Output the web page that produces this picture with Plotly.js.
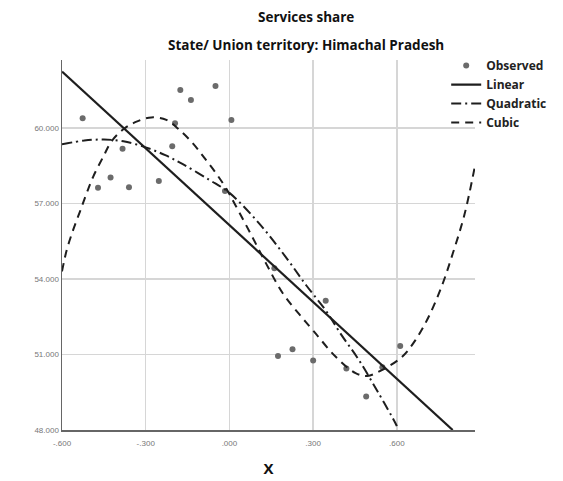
<!DOCTYPE html>
<html>
<head>
<meta charset="utf-8">
<script src="https://cdn.plot.ly/plotly-3.0.1.min.js"></script>
<style>html,body{margin:0;padding:0;background:#fff}#chart{width:563px;height:481px}</style>
</head>
<body>
<div id="chart"></div>
<script>
// Observed points
const obsX = [-0.526, -0.176, -0.138, -0.050, 0.007, -0.195, -0.383, -0.205, -0.426, -0.471, -0.360, -0.253, -0.016, 0.161, 0.174, 0.226, 0.300, 0.345, 0.419, 0.490, 0.548, 0.612];
const obsY = [60.39, 61.51, 61.11, 61.67, 60.32, 60.19, 59.17, 59.27, 58.03, 57.62, 57.64, 57.89, 57.50, 54.43, 50.94, 51.21, 50.76, 53.14, 50.44, 49.33, 50.49, 51.34];

// Linear fit (read endpoints)
const linX = [-0.600, 0.800];
const linY = [62.24, 48.00];

// Quadratic fit
const quadX = [-0.600, -0.520, -0.450, -0.380, -0.300, -0.230, -0.167, -0.071, 0.000, 0.107, 0.200, 0.275, 0.345, 0.400, 0.464, 0.530, 0.595, 0.600];
const quadY = [59.35, 59.50, 59.54, 59.47, 59.23, 58.92, 58.56, 57.93, 57.42, 56.20, 54.90, 53.75, 52.75, 51.80, 50.78, 49.55, 48.27, 48.15];

// Cubic fit
const cubX = [-0.600, -0.583, -0.560, -0.536, -0.512, -0.488, -0.452, -0.423, -0.380, -0.333, -0.280, -0.226, -0.179, -0.131, -0.089, -0.048, -0.012, 0.023, 0.081, 0.132, 0.190, 0.250, 0.304, 0.381, 0.452, 0.494, 0.548, 0.619, 0.667, 0.714, 0.762, 0.800, 0.842, 0.880];
const cubY = [54.30, 55.15, 55.95, 56.67, 57.40, 58.07, 58.86, 59.46, 59.95, 60.25, 60.42, 60.32, 59.92, 59.39, 58.80, 58.20, 57.60, 56.90, 55.69, 54.60, 53.45, 52.60, 51.90, 50.91, 50.26, 50.15, 50.39, 50.91, 51.58, 52.50, 53.75, 55.00, 56.55, 58.50];

const xTickVals = [-0.6, -0.3, 0, 0.3, 0.6];
const xTickText = ['-.600', '-.300', '.000', '.300', '.600'];
const yTickVals = [48, 51, 54, 57, 60];
const yTickText = ['48.000', '51.000', '54.000', '57.000', '60.000'];

const seriesNames = ['Observed', 'Linear', 'Quadratic', 'Cubic'];

const traces = [
  {x: obsX, y: obsY, mode: 'markers', type: 'scatter', name: seriesNames[0],
   marker: {color: '#6b6b6b', size: 6}},
  {x: linX, y: linY, mode: 'lines', type: 'scatter', name: seriesNames[1],
   line: {color: '#1e1e1e', width: 2.2}},
  {x: quadX, y: quadY, mode: 'lines', type: 'scatter', name: seriesNames[2],
   line: {color: '#1e1e1e', width: 2, dash: '10px,4px,2px,4px', shape: 'spline'}},
  {x: cubX, y: cubY, mode: 'lines', type: 'scatter', name: seriesNames[3],
   line: {color: '#1e1e1e', width: 2, dash: '8px,6px', shape: 'spline'}}
];

const layout = {
  width: 563, height: 481,
  margin: {l: 62, r: 87, t: 60, b: 51},
  paper_bgcolor: '#fff', plot_bgcolor: '#fff',
  font: {family: 'Open Sans, sans-serif', color: '#111'},
  showlegend: true,
  legend: {x: 0.928, xanchor: 'left', y: 1.024, yanchor: 'top',
    bgcolor: 'rgba(0,0,0,0)', font: {size: 12, color: '#222', weight: 'bold'},
    tracegroupgap: 0, itemwidth: 30},
  xaxis: {range: [-0.6, 0.88], tickvals: xTickVals, ticktext: xTickText,
    showgrid: true, gridcolor: '#d6d6d6', gridwidth: 1.5, zeroline: false,
    showline: true, linecolor: '#666', linewidth: 1.5,
    ticks: 'outside', ticklen: 5, tickcolor: 'rgba(0,0,0,0)',
    tickfont: {size: 8, color: '#777', family: 'Liberation Sans Narrow, Liberation Sans, sans-serif'},
    title: {text: '<b>X</b>', font: {size: 15, color: '#111'}, standoff: 16}},
  yaxis: {range: [48, 62.7], tickvals: yTickVals, ticktext: yTickText,
    showgrid: true, gridcolor: '#d6d6d6', gridwidth: 1.5, zeroline: false,
    showline: true, linecolor: '#666', linewidth: 1.5, ticks: '',
    tickfont: {size: 8, color: '#777', family: 'Liberation Sans Narrow, Liberation Sans, sans-serif'}},
  annotations: [
    {text: '<b>Services share</b>', xref: 'paper', yref: 'paper', x: 0.592, y: 1.0,
     xanchor: 'center', yanchor: 'middle', yshift: 43, showarrow: false,
     font: {size: 13.5, color: '#111'}},
    {text: '<b>State/ Union territory: Himachal Pradesh</b>', xref: 'paper', yref: 'paper', x: 0.592, y: 1.0,
     xanchor: 'center', yanchor: 'middle', yshift: 15, showarrow: false,
     font: {size: 13.5, color: '#111'}}
  ]
};

Plotly.newPlot('chart', traces, layout, {displayModeBar: false, staticPlot: true});
</script>
</body>
</html>
